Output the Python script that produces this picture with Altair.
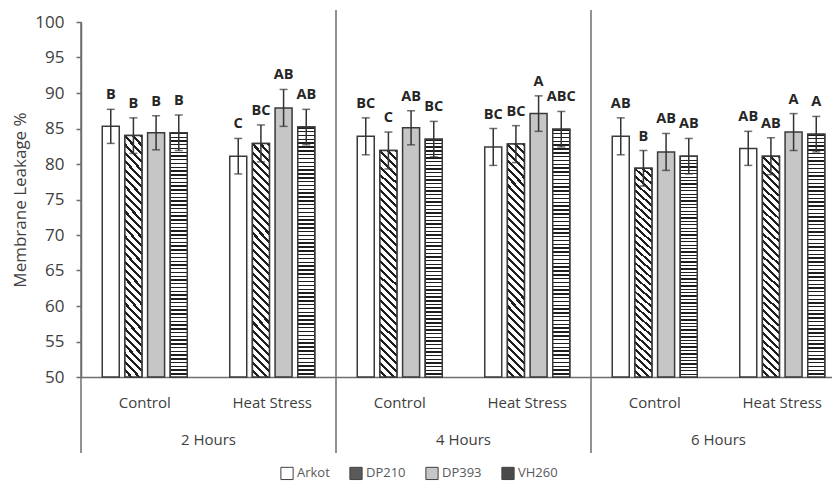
import altair as alt
import pandas as pd

# ---------------- data ----------------
times = ["2 Hours", "4 Hours", "6 Hours"]
conditions = ["Control", "Heat Stress"]
cultivars = ["Arkot", "DP210", "DP393", "VH260"]

# order of values: 2h Control, 2h Heat, 4h Control, 4h Heat, 6h Control, 6h Heat
arkot_mean = [85.3, 81.1, 83.9, 82.4, 83.9, 82.2]
dp210_mean = [84.0, 82.9, 81.9, 82.8, 79.4, 81.1]
dp393_mean = [84.4, 87.9, 85.1, 87.1, 81.7, 84.5]
vh260_mean = [84.4, 85.2, 83.5, 84.9, 81.1, 84.2]

arkot_err = [2.4, 2.5, 2.6, 2.6, 2.6, 2.4]
dp210_err = [2.5, 2.6, 2.6, 2.6, 2.5, 2.6]
dp393_err = [2.4, 2.6, 2.4, 2.5, 2.6, 2.6]
vh260_err = [2.5, 2.5, 2.5, 2.5, 2.5, 2.5]

arkot_letter = ["B", "C", "BC", "BC", "AB", "AB"]
dp210_letter = ["B", "BC", "C", "BC", "B", "AB"]
dp393_letter = ["B", "AB", "AB", "A", "AB", "A"]
vh260_letter = ["B", "AB", "BC", "ABC", "AB", "A"]

means = [arkot_mean, dp210_mean, dp393_mean, vh260_mean]
errs = [arkot_err, dp210_err, dp393_err, vh260_err]
letters = [arkot_letter, dp210_letter, dp393_letter, vh260_letter]

rows = []
for ci, cv in enumerate(cultivars):
    k = 0
    for t in times:
        for c in conditions:
            m = means[ci][k]
            e = errs[ci][k]
            rows.append({"time": t, "cond": c, "tc": f"{t}|{c}", "cultivar": cv,
                         "mean": m, "lo": m - e, "hi": m + e, "letter": letters[ci][k]})
            k += 1
df = pd.DataFrame(rows)
tc_order = [f"{t}|{c}" for t in times for c in conditions]
time_df = pd.DataFrame({"time": times})

# ---------------- styles ----------------
FONT = "Open Sans"
TXT = "#404040"
LINE = "#6e6e6e"


def stripes(n, frac, dark="#1e1e1e", light="#ffffff"):
    st = []
    for k in range(n):
        a = k / n
        b = (k + frac) / n
        c = (k + 1) / n
        st += [{"offset": a, "color": dark}, {"offset": b, "color": dark},
               {"offset": b, "color": light}, {"offset": c, "color": light}]
    return st


grad_h = {"gradient": "linear", "x1": 0, "y1": 0, "x2": 0, "y2": 1, "stops": stripes(65, 0.38)}
grad_d = {"gradient": "linear", "x1": 1, "y1": 0, "x2": 0.921, "y2": 1.068, "stops": stripes(31, 0.38)}

x_tc = alt.X("tc:N", sort=tc_order,
             scale=alt.Scale(domain=tc_order, range=[0, 765], paddingInner=0.3333, paddingOuter=0.16667),
             axis=alt.Axis(title=None, labelExpr="split(datum.label, '|')[1]", ticks=False,
                           domainColor=LINE, domainWidth=1.5, labelFontSize=15, labelColor=TXT,
                           labelPadding=18, labelAngle=0, grid=False, labelFont=FONT))
x_off = alt.XOffset("cultivar:N", sort=cultivars,
                    scale=alt.Scale(domain=cultivars, paddingInner=0.25, paddingOuter=0))
y_scale = alt.Scale(domain=[50, 100], nice=False, zero=False)
y_axis = alt.Axis(values=list(range(50, 101, 5)), tickCount=11, grid=False, tickSize=5, tickColor=LINE,
                  tickWidth=1.5, domainColor=LINE, domainWidth=1.5, labelFontSize=17,
                  labelColor=TXT, labelPadding=12, labelFont=FONT, labelOverlap=False,
                  title="Membrane Leakage %", titleFontSize=17, titleColor=TXT,
                  titleFontWeight="normal", titlePadding=5, titleFont=FONT)


def yq(field):
    return alt.Y(f"{field}:Q", scale=y_scale, axis=y_axis)


base = alt.Chart(df)

bars = base.mark_bar(stroke="#3a3a3a", strokeWidth=1.5).encode(
    x=x_tc, xOffset=x_off, y=yq("mean"), y2=alt.datum(50),
    fill=alt.Fill("cultivar:N", sort=cultivars,
                  scale=alt.Scale(domain=cultivars, range=["#ffffff", "#5a5a5a", "#c6c6c6", "#4a4a4a"]),
                  legend=alt.Legend(orient="none", legendX=199, legendY=444, direction="horizontal",
                                    title=None, symbolType="square", symbolSize=150,
                                    symbolStrokeColor="#404040", symbolStrokeWidth=1,
                                    labelFont=FONT, labelFontSize=13, labelColor="#595959",
                                    columnPadding=17, labelOffset=3))
)

bars_d = base.transform_filter(alt.datum.cultivar == "DP210").mark_bar(
    fill=grad_d, stroke="#3a3a3a", strokeWidth=1.5).encode(
    x=x_tc, xOffset=x_off, y=yq("mean"), y2=alt.datum(50))
bars_h = base.transform_filter(alt.datum.cultivar == "VH260").mark_bar(
    fill=grad_h, stroke="#3a3a3a", strokeWidth=1.5).encode(
    x=x_tc, xOffset=x_off, y=yq("mean"), y2=alt.datum(50))

err_rule = base.mark_rule(color="#333333", strokeWidth=1.5).encode(
    x=x_tc, xOffset=x_off, y=yq("lo"), y2="hi:Q")
cap_hi = base.mark_tick(color="#333333", thickness=1.5, size=8).encode(
    x=x_tc, xOffset=x_off, y=yq("hi"))
cap_lo = base.mark_tick(color="#333333", thickness=1.5, size=8).encode(
    x=x_tc, xOffset=x_off, y=yq("lo"))
labels = base.mark_text(font=FONT, fontWeight="bold", fontSize=14.5, color="#262626",
                        baseline="alphabetic", dy=-10).encode(
    x=x_tc, xOffset=x_off, y=yq("hi"), text="letter:N")

layer_a = alt.layer(bars, bars_d, bars_h, err_rule, cap_hi, cap_lo, labels)

x_time = alt.X("time:N", sort=times, bandPosition=0,
               scale=alt.Scale(domain=times, range=[0, 765], paddingInner=0, paddingOuter=0),
               axis=alt.Axis(orient="bottom", title=None, domain=False, ticks=False, labelPadding=55,
                             labelFontSize=15, labelColor=TXT, labelAngle=0, grid=False,
                             labelFont=FONT, labelBound=False))
sep_low = alt.Chart(time_df).mark_rule(color=LINE, strokeWidth=1.5).encode(
    x=x_time, y=alt.value(0), y2=alt.value(431))
sep_top = alt.Chart(time_df).transform_filter(alt.datum.time != times[0]).mark_rule(
    color=LINE, strokeWidth=1.5).encode(x=x_time, y=alt.value(-12), y2=alt.value(0))
layer_b = alt.layer(sep_low, sep_top)

chart = alt.layer(layer_a, layer_b).resolve_scale(x="independent").properties(
    width=751, height=355,
    autosize=alt.AutoSizeParams(type="none"),
    padding={"left": 73, "top": 14, "right": 0, "bottom": 106},
).configure_view(stroke=None).configure_axis(labelFont=FONT, titleFont=FONT)

chart.save("out.html", embed_options={"renderer": "svg", "actions": False})
